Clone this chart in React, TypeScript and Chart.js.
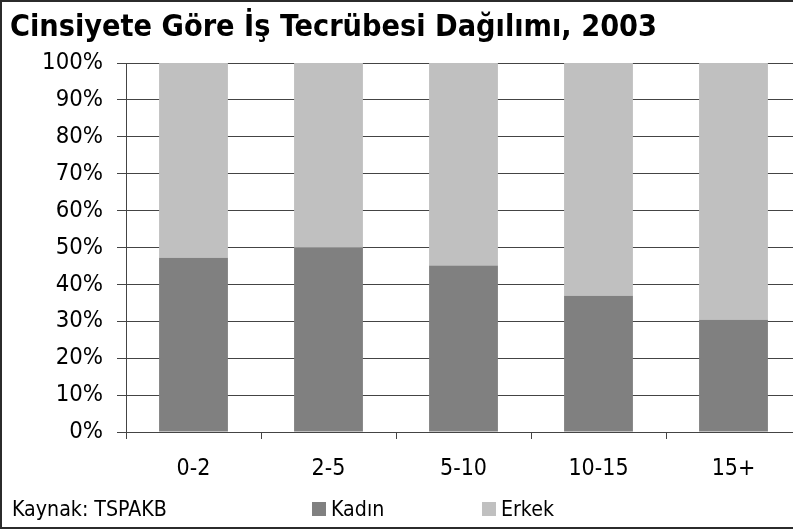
import React, { useEffect, useRef } from 'react';
import { Chart, registerables } from 'chart.js';
Chart.register(...registerables);

const titleText = 'Cinsiyete Göre İş Tecrübesi Dağılımı, 2003';
const sourceText = 'Kaynak: TSPAKB';
const categories = ['0-2', '2-5', '5-10', '10-15', '15+'];
const seriesNames = ['Kadın', 'Erkek'];
const kadin = [47.2, 49.9, 45.1, 36.9, 30.4];
const erkek = [52.8, 50.1, 54.9, 63.1, 69.6];
const yTickValues = [0, 10, 20, 30, 40, 50, 60, 70, 80, 90, 100];

const FONT = '"DejaVu Sans Condensed", "DejaVu Sans", sans-serif';
const W = 801;
const H = 529;

function fitSize(text: string, width: number, weight: string): number {
  const c = document.createElement('canvas').getContext('2d')!;
  c.font = `${weight} 100px ${FONT}`;
  const w = c.measureText(text).width;
  return Math.round((100 * width / w) * 10) / 10;
}

export default function App() {
  const ref = useRef<HTMLCanvasElement>(null);
  useEffect(() => {
    document.body.style.margin = '0';
    const tickSize = fitSize('100%', 61, 'normal');
    const xSize = fitSize('10-15', 60, 'normal');
    const titleSize = fitSize(titleText, 647, 'bold');
    const footSize = fitSize(sourceText, 155, 'normal');

    const textPlugin = {
      id: 'texts',
      afterDraw(chart: any) {
        const ctx = chart.ctx;
        ctx.save();
        ctx.fillStyle = '#000';
        ctx.textBaseline = 'alphabetic';
        ctx.textAlign = 'left';
        ctx.font = `bold ${titleSize}px ${FONT}`;
        ctx.fillText(titleText, 10, 36);
        ctx.font = `normal ${footSize}px ${FONT}`;
        ctx.fillText(sourceText, 12, 516);
        const legendX = [312, 482];
        chart.data.datasets.forEach((ds: any, i: number) => {
          ctx.fillStyle = ds.backgroundColor;
          ctx.fillRect(legendX[i], 502, 14, 14);
          ctx.fillStyle = '#000';
          ctx.fillText(ds.label, legendX[i] + 19, 516);
        });
        ctx.restore();
      },
    };

    const chart = new Chart(ref.current!, {
      type: 'bar',
      data: {
        labels: categories,
        datasets: [
          { label: seriesNames[0], data: kadin, backgroundColor: '#808080', borderWidth: 0 },
          { label: seriesNames[1], data: erkek, backgroundColor: '#c0c0c0', borderWidth: 0 },
        ],
      },
      options: {
        animation: false,
        responsive: false,
        devicePixelRatio: 1,
        layout: { padding: { top: 63, left: 0, right: 0, bottom: 0 } },
        datasets: { bar: { categoryPercentage: 1, barPercentage: 0.51 } },
        plugins: { legend: { display: false }, tooltip: { enabled: false }, title: { display: false } },
        scales: {
          x: {
            stacked: true,
            offset: true,
            grid: { display: true, drawOnChartArea: false, drawTicks: true, tickLength: 7, color: '#444', offset: true },
            border: { display: true, color: '#444', width: 1 },
            ticks: { color: '#000', font: { family: FONT, size: xSize }, padding: 16, maxRotation: 0 },
            afterFit: (s: any) => { s.height = H - 432; },
          },
          y: {
            stacked: true,
            min: 0,
            max: 100,
            afterBuildTicks: (s: any) => { s.ticks = yTickValues.map((v) => ({ value: v })); },
            grid: { color: '#444', lineWidth: 1, drawTicks: true, tickLength: 9 },
            border: { display: true, color: '#444', width: 1 },
            ticks: { color: '#000', font: { family: FONT, size: tickSize }, padding: 14, callback: (v: any) => v + '%' },
            afterFit: (s: any) => { s.width = 126; },
          },
        },
      },
      plugins: [textPlugin],
    });
    return () => chart.destroy();
  }, []);

  return (
    <div style={{ position: 'relative', width: 793, height: H, overflow: 'hidden', background: '#fff' }}>
      <canvas ref={ref} width={W} height={H} style={{ position: 'absolute', left: 0, top: 0, width: W, height: H }} />
      <div style={{ position: 'absolute', left: 0, top: 0, width: 800, height: H, boxSizing: 'border-box', border: '2px solid #2b2b2b', pointerEvents: 'none' }} />
    </div>
  );
}
